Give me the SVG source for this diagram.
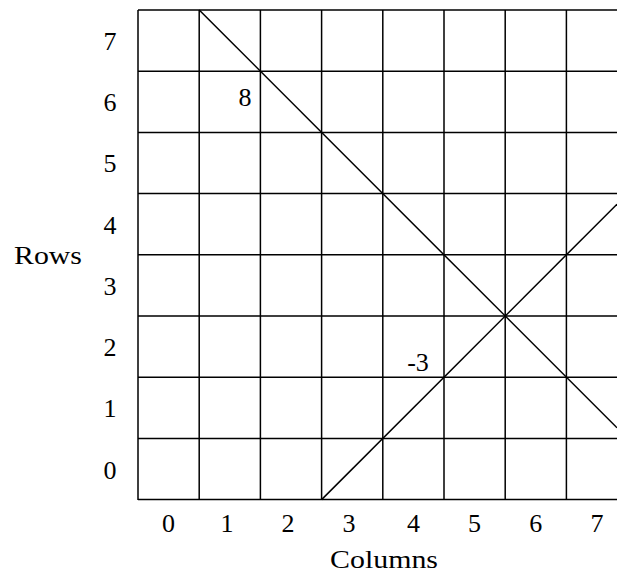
<svg xmlns="http://www.w3.org/2000/svg" width="617" height="575" viewBox="0 0 617 575">
<style>
.g{stroke:#000;stroke-width:1.5;fill:none}
text{font-family:"Liberation Serif","DejaVu Serif",serif;font-size:26px;fill:#000;text-anchor:middle}
</style>
<rect width="617" height="575" fill="#fff"/>
<g id="grid" class="g">
<path d="M138,10V500M199.2,10V500M260.4,10V500M321.6,10V500M382.8,10V500M444,10V500M505.2,10V500M566.4,10V500"/>
<path d="M138,10H617M138,71.2H617M138,132.4H617M138,193.6H617M138,254.8H617M138,316H617M138,377.2H617M138,438.4H617M138,499.6H617"/>
</g>
<g id="connectors" class="g">
<line x1="199.2" y1="10" x2="617" y2="427.8"/>
<line x1="321.6" y1="499.6" x2="617" y2="204.2"/>
</g>
<g id="row-labels">
<text x="110" y="50">7</text>
<text x="110" y="111">6</text>
<text x="110" y="172">5</text>
<text x="110" y="234">4</text>
<text x="110" y="295">3</text>
<text x="110" y="356">2</text>
<text x="110" y="417">1</text>
<text x="110" y="479">0</text>
<text x="48" y="264" textLength="68" lengthAdjust="spacingAndGlyphs">Rows</text>
</g>
<g id="col-labels">
<text x="168.6" y="532">0</text>
<text x="227" y="532">1</text>
<text x="288" y="532">2</text>
<text x="349" y="532">3</text>
<text x="413.4" y="532">4</text>
<text x="474.6" y="532">5</text>
<text x="535.8" y="532">6</text>
<text x="597" y="532">7</text>
<text x="384" y="568" textLength="108" lengthAdjust="spacingAndGlyphs">Columns</text>
</g>
<g id="marks">
<text x="245" y="106">8</text>
<text x="418" y="371">-3</text>
</g>
</svg>
